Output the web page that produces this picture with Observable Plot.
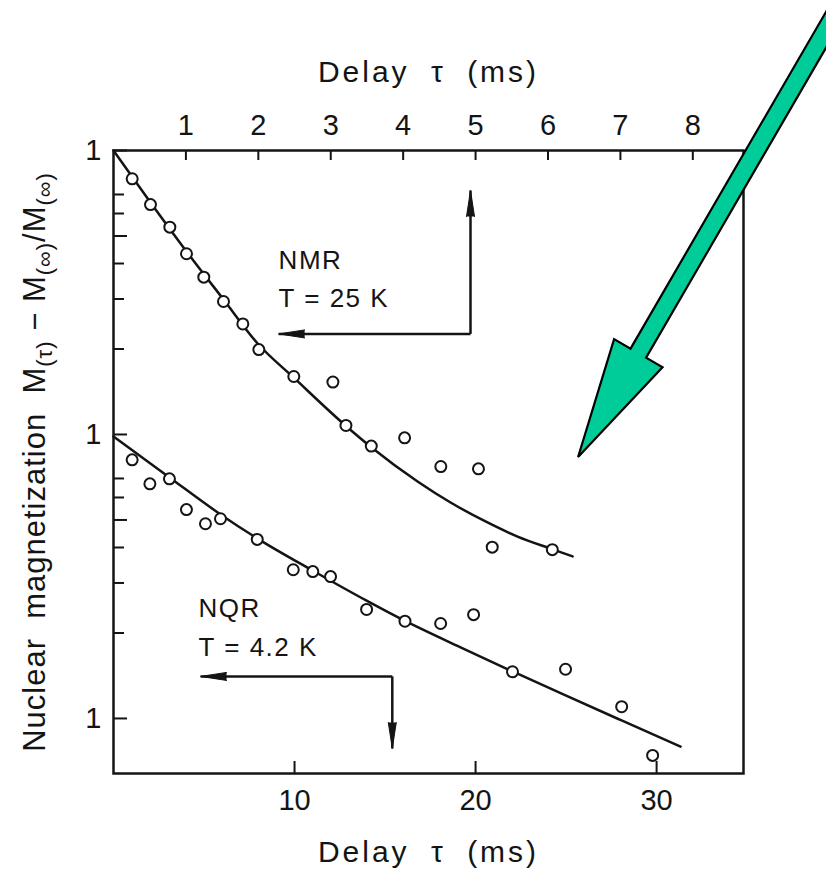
<!DOCTYPE html>
<html>
<head>
<meta charset="utf-8">
<script src="https://cdn.jsdelivr.net/npm/d3@7"></script>
<script src="https://cdn.jsdelivr.net/npm/@observablehq/plot@0.6"></script>
<style>
  body { margin: 0; background: #fff; }
  g[aria-description="xtitle"] text { letter-spacing: 3px; word-spacing: 10px; }
  g[aria-description="tag"] text { letter-spacing: 1.5px; }
</style>
</head>
<body>
<div id="chart"></div>
<script>
// ---------- Data ----------
// NMR, T = 25 K  (delay on the TOP axis, ms)
const nmrTau = [0.258, 0.511, 0.778, 1.008, 1.247, 1.519, 1.786, 2.007, 2.49, 3.03, 3.21, 3.56, 4.02, 4.52, 5.04, 5.23, 6.06];
const nmrM   = [0.795, 0.645, 0.537, 0.433, 0.358, 0.294, 0.245, 0.199, 0.160, 0.153, 0.1076, 0.091, 0.0973, 0.0771, 0.0757, 0.0401, 0.0393];
// fitted NMR curve (top axis, ms)
const nmrFitTau = [0, 0.511, 1.008, 1.519, 2.003, 2.486, 3.218, 3.564, 4.199, 4.655, 5.11, 5.58, 6.064, 6.34];
const nmrFitM   = [1, 0.656, 0.441, 0.2988, 0.2074, 0.1588, 0.1067, 0.0900, 0.0683, 0.0576, 0.0498, 0.0437, 0.0394, 0.0372];

// NQR, T = 4.2 K  (delay on the BOTTOM axis, ms)
const nqrTau = [1.03, 2.01, 3.09, 4.03, 5.08, 5.91, 7.94, 9.93, 11.01, 11.99, 13.98, 16.1, 18.07, 19.89, 22.04, 24.97, 28.07, 29.78];
const nqrM   = [0.0814, 0.0670, 0.0698, 0.0544, 0.0485, 0.0505, 0.0427, 0.0334, 0.0329, 0.0316, 0.0242, 0.0220, 0.0216, 0.0232, 0.0146, 0.0149, 0.0110, 0.00741];
// fitted NQR curve (bottom axis, ms)
const nqrFitTau = [0, 3.094, 5.912, 7.956, 10.994, 13.978, 16.077, 19.171, 22.044, 24.972, 28.066, 31.326];
const nqrFitM   = [0.0984, 0.0706, 0.0523, 0.0430, 0.0332, 0.0260, 0.0221, 0.0178, 0.01464, 0.01205, 0.00984, 0.00796];

// axes
const topPerBottom = 4;                // 1 ms on the top axis = 4 ms on the bottom axis
const xBottomTicks = [10, 20, 30];
const xTopTicks = [1, 2, 3, 4, 5, 6, 7, 8];
const yMajorTicks = [1, 0.5, 0.1, 0.05, 0.01];
const yMajorLabels = ["1", ".5", "1", ".5", "1"];
const yMinorTicks = [0.7, 0.6, 0.4, 0.3, 0.2, 0.07, 0.06, 0.04, 0.03, 0.02];
const xTitle = "Delay τ (ms)";

// annotations (bottom-axis ms, magnetization)
const tagText = ["NMR", "T = 25 K", "NQR", "T = 4.2 K"];
const tagTau  = [9.12, 9.12, 4.70, 4.70];
const tagM    = [0.410, 0.300, 0.0244, 0.0178];
const bendCornerTau = [19.72, 19.72, 15.40, 15.40];
const bendCornerM   = [0.226, 0.226, 0.01406, 0.01406];
const bendTipTau    = [9.12, 19.72, 4.81, 15.40];
const bendTipM      = [0.226, 0.723, 0.01406, 0.00784];
const bendTipDir    = [-90, 0, -90, 180];   // left, up, left, down
const greenTail = [40.66, 3.66];
const greenTip  = [25.69, 0.083];

// ---------- layout ----------
const W = 826, H = 869, mL = 113, mR = 83, mT = 150, mB = 96;
const frameW = W - mL - mR, frameH = H - mT - mB;

// ---------- build tables ----------
const nmr = nmrTau.map((t, i) => ({x: t * topPerBottom, y: nmrM[i]}));
const nmrFit = nmrFitTau.map((t, i) => ({x: t * topPerBottom, y: nmrFitM[i]}));
const nqr = nqrTau.map((t, i) => ({x: t, y: nqrM[i]}));
const nqrFit = nqrFitTau.map((t, i) => ({x: t, y: nqrFitM[i]}));
const tags = tagText.map((s, i) => ({text: s, x: tagTau[i], y: tagM[i]}));
const bends = bendTipTau.map((t, i) => ({x1: bendCornerTau[i], y1: bendCornerM[i], x2: t, y2: bendTipM[i], dir: bendTipDir[i]}));
const yLabel = d => yMajorLabels[yMajorTicks.indexOf(d)] ?? "";
const ink = "#141414";

const plot = Plot.plot({
  width: W,
  height: H,
  marginLeft: mL,
  marginRight: mR,
  marginTop: mT,
  marginBottom: mB,
  style: {fontFamily: "'Liberation Sans', Arial, sans-serif", fontSize: "29px", color: ink, background: "#fff"},
  x: {domain: [0, 34.8]},
  y: {type: "log", domain: [0.0064, 1]},
  marks: [
    Plot.axisY({ticks: yMajorTicks, tickFormat: yLabel, tickSize: 0, tickPadding: 12, label: null}),
    Plot.axisX({anchor: "bottom", ticks: xBottomTicks, tickSize: 0, tickPadding: 16, label: null}),
    Plot.axisX({anchor: "top", ticks: xTopTicks.map(t => t * topPerBottom), tickFormat: d => String(d / topPerBottom), tickSize: 0, tickPadding: 16, label: null}),
    // inward ticks (rules inset to a short length from the frame edge)
    Plot.ruleY(yMajorTicks, {y: d => d, insetRight: frameW - 14, stroke: ink, strokeWidth: 2}),
    Plot.ruleY(yMinorTicks, {y: d => d, insetRight: frameW - 11, stroke: ink, strokeWidth: 2}),
    Plot.ruleX(xBottomTicks, {x: d => d, insetTop: frameH - 12, stroke: ink, strokeWidth: 2}),
    Plot.ruleX(xTopTicks, {x: d => d * topPerBottom, insetBottom: frameH - 10, stroke: ink, strokeWidth: 2}),
    Plot.frame({stroke: ink, strokeWidth: 2.5}),
    Plot.line(nmrFit, {x: "x", y: "y", curve: "monotone-x", stroke: ink, strokeWidth: 2.5}),
    Plot.line(nqrFit, {x: "x", y: "y", curve: "monotone-x", stroke: ink, strokeWidth: 2.5}),
    Plot.dot(nmr, {x: "x", y: "y", r: 5.5, stroke: ink, fill: "#fff", strokeWidth: 2}),
    Plot.dot(nqr, {x: "x", y: "y", r: 5.5, stroke: ink, fill: "#fff", strokeWidth: 2}),
    // bent annotation arrows
    Plot.link(bends, {x1: "x1", y1: "y1", x2: "x2", y2: "y2", stroke: ink, strokeWidth: 2.5}),
    Plot.vector(bends, {x: "x2", y: "y2", rotate: "dir", length: 26, r: 4, shape: "spike", anchor: "end", fill: ink, stroke: ink, strokeWidth: 1}),
    Plot.text(tags, {x: "x", y: "y", text: "text", textAnchor: "start", fontSize: 26, fill: ink, ariaDescription: "tag"}),
    Plot.text([xTitle], {text: d => d, frameAnchor: "top", dy: -90, fontSize: 30, fill: ink, ariaDescription: "xtitle"}),
    Plot.text([xTitle], {text: d => d, frameAnchor: "bottom", dy: 88, fontSize: 30, fill: ink, ariaDescription: "xtitle"})
  ]
});

// ---------- y-axis title with subscripts ----------
const svg = d3.select(plot);
const yt = svg.append("text")
  .attr("transform", "translate(45,462) rotate(-90)")
  .attr("text-anchor", "middle")
  .attr("fill", ink)
  .style("font-family", "'Liberation Sans', Arial, sans-serif")
  .style("font-size", "31px")
  .style("letter-spacing", "1px")
  .style("white-space", "pre");
yt.append("tspan").text("Nuclear  magnetization  M");
yt.append("tspan").attr("dy", 7).style("font-size", "22px").text("(τ)");
yt.append("tspan").attr("dy", -7).text(" − M");
yt.append("tspan").attr("dy", 7).style("font-size", "22px").text("(∞)");
yt.append("tspan").attr("dy", -7).text("/M");
yt.append("tspan").attr("dy", 7).style("font-size", "22px").text("(∞)");

// ---------- green pointer arrow (anchored through the plot's scales) ----------
const X = plot.scale("x"), Y = plot.scale("y");
const p0 = [X.apply(greenTail[0]), Y.apply(greenTail[1])];
const p1 = [X.apply(greenTip[0]), Y.apply(greenTip[1])];
const L = Math.hypot(p0[0] - p1[0], p0[1] - p1[1]);
const ux = (p0[0] - p1[0]) / L, uy = (p0[1] - p1[1]) / L;
const nx = -uy, ny = ux;
const HL = 120, HW = 28, SW = 9;
const bx = p1[0] + ux * HL, by = p1[1] + uy * HL;
const poly = [
  p1,
  [bx + nx * HW, by + ny * HW],
  [bx + nx * SW, by + ny * SW],
  [p0[0] + nx * SW, p0[1] + ny * SW],
  [p0[0] - nx * SW, p0[1] - ny * SW],
  [bx - nx * SW, by - ny * SW],
  [bx - nx * HW, by - ny * HW]
];
svg.append("path")
  .attr("d", "M" + poly.map(p => p.join(",")).join("L") + "Z")
  .attr("fill", "#00CC99")
  .attr("stroke", "#000")
  .attr("stroke-width", 2.2)
  .attr("stroke-linejoin", "miter");

document.getElementById("chart").appendChild(plot);
</script>
</body>
</html>
